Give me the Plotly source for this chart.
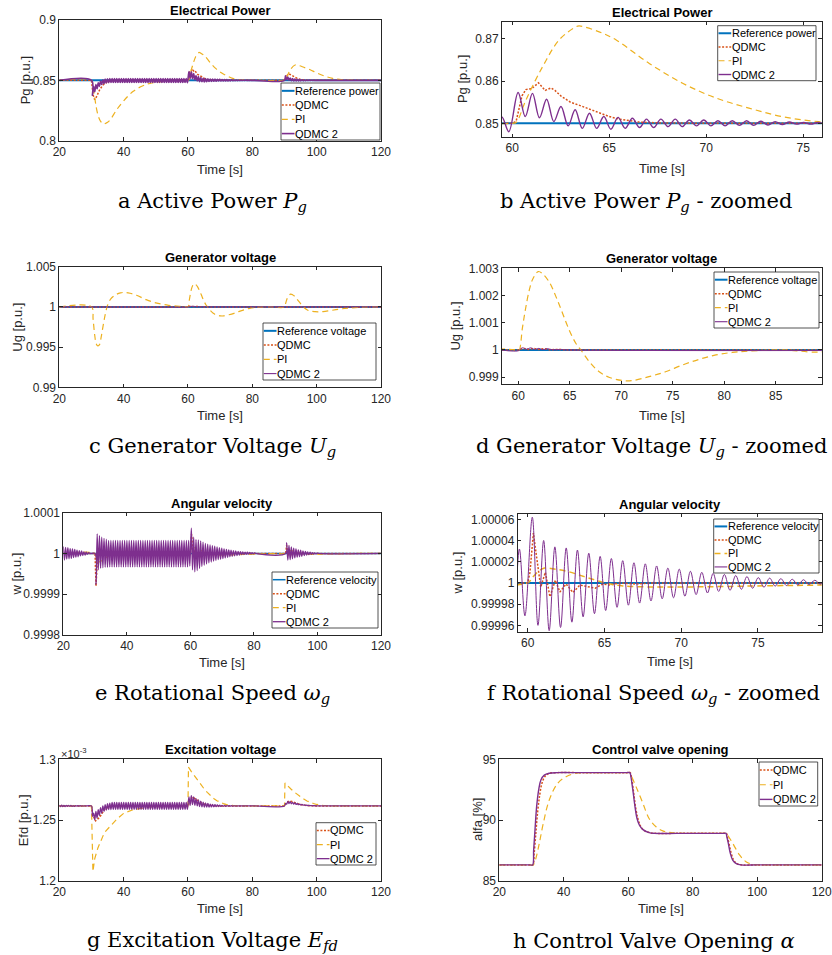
import plotly.graph_objects as go

FIG_W, FIG_H = 832, 955
SANS = "Liberation Sans, Arial, sans-serif"
SERIF = "DejaVu Serif, serif"

C_REF, C_QDMC, C_PI, C_Q2 = "#0072BD", "#D95319", "#EDB120", "#7E2F8E"
DOT, DASH = "2px,1.6px", "6px,4px"

# ---------------- time stamps of the QDMC 2 oscillation extremes [s] ----------------
T_OSC_A = [20.0, 20.36, 20.72, 21.08, 21.44, 21.8, 22.16, 22.52, 22.88, 23.24, 23.6, 23.96,
           24.32, 24.68, 25.04, 25.4, 25.76, 26.12, 26.48, 26.84, 27.2, 27.56, 27.92]
T_GAP_A = [28.5, 30.0]
T_PRE = [20.0, 30.0]
T_OSC_B = [30.3, 30.66, 31.02, 31.38, 31.74, 32.1, 32.46, 32.82, 33.18, 33.54,
           33.9, 34.26, 34.62, 34.98, 35.34, 35.7, 36.06, 36.42, 36.78, 37.14,
           37.5, 37.86, 38.22, 38.58, 38.94, 39.3, 39.66, 40.02, 40.38, 40.74,
           41.1, 41.46, 41.82, 42.18, 42.54, 42.9, 43.26, 43.62, 43.98, 44.34,
           44.7, 45.06, 45.42, 45.78, 46.14, 46.5, 46.86, 47.22, 47.58, 47.94,
           48.3, 48.66, 49.02, 49.38, 49.74, 50.1, 50.46, 50.82, 51.18, 51.54,
           51.9, 52.26, 52.62, 52.98, 53.34, 53.7, 54.06, 54.42, 54.78, 55.14,
           55.5, 55.86, 56.22, 56.58, 56.94, 57.3, 57.66, 58.02, 58.38, 58.74,
           59.1, 59.46, 59.82]
T_OSC_C = [60.3, 60.67, 61.04, 61.4, 61.77, 62.14, 62.51, 62.88, 63.24, 63.61,
           63.98, 64.35, 64.72, 65.08, 65.45, 65.82, 66.19, 66.56, 66.92, 67.29,
           67.66, 68.03, 68.4, 68.76, 69.13, 69.5, 69.87, 70.24, 70.6, 70.97,
           71.34, 71.71, 72.08, 72.44, 72.81, 73.18, 73.55, 73.92, 74.28, 74.65,
           75.02, 75.39, 75.76, 76.12, 76.49, 76.86, 77.23, 77.6, 77.96, 78.33,
           78.7, 79.07, 79.44, 79.8, 80.17]
T_GAP_C = [80.6, 90.0]
T_OSC_D = [90.3, 90.67, 91.04, 91.4, 91.77, 92.14, 92.51, 92.88, 93.24, 93.61,
           93.98, 94.35, 94.72, 95.08, 95.45, 95.82, 96.19, 96.56, 96.92, 97.29,
           97.66, 98.03, 98.4, 98.76, 99.13, 99.5, 99.87]
T_END = [100.3, 120.0]
ZERO2 = [0, 0]

# ---------------- Active power Pg [p.u.] ----------------
PG_REF_T = [20, 120]
PG_REF = [0.85, 0.85]
PG_QDMC_T = [20, 30.0, 30.5, 31.0, 31.5, 32.5, 33.5, 35.0, 37.0,
             60.0, 60.2, 60.5, 60.7, 61.0, 61.35, 61.7, 62.0, 62.2, 62.5,
             63.0, 63.5, 64.0, 64.5, 65.0, 65.5, 66.0, 66.5, 67.5, 70.0,
             90.0, 90.5, 91.3, 92.0, 93.0, 94.0, 95.0, 96.5, 120]
PG_QDMC = [0.85, 0.85, 0.838, 0.834, 0.836, 0.842, 0.846, 0.849, 0.85,
           0.85, 0.8505, 0.8565, 0.858, 0.8582, 0.8596, 0.8578, 0.8584, 0.8578, 0.8565,
           0.855, 0.8542, 0.8533, 0.8524, 0.8516, 0.851, 0.8506, 0.8503, 0.8501, 0.85,
           0.85, 0.853, 0.8555, 0.8545, 0.8528, 0.8515, 0.8507, 0.8501, 0.85]
PG_PI_T = [20, 30.0, 30.5, 31.0, 31.5, 32.0, 32.6, 33.2, 33.7, 34.3,
           35.0, 36.0, 37.8, 40.0, 43.0, 46.0, 48.2, 51.0, 53.4, 57.0,
           60.0, 60.2, 60.7, 61.56, 62.42, 63.28, 63.45, 64.48, 65.34, 67.06,
           68.78, 70.5, 72.2, 73.9, 75.8, 78.0, 81.0, 90.0, 90.3, 91.0,
           92.0, 93.3, 94.5, 96.0, 98.0, 100.0, 102.5, 105.0, 108.0, 112.0, 120]
PG_PI = [0.85, 0.85, 0.845, 0.836, 0.8275, 0.8215, 0.8172, 0.8148, 0.8138, 0.8142,
         0.8152, 0.818, 0.8255, 0.833, 0.841, 0.8455, 0.8475, 0.8488, 0.8494, 0.8498,
         0.85, 0.8502, 0.8555, 0.8634, 0.8698, 0.8729, 0.8731, 0.8717, 0.8698, 0.8642,
         0.8595, 0.856, 0.8536, 0.8516, 0.8504, 0.8501, 0.85, 0.85, 0.8505, 0.8545,
         0.8596, 0.8627, 0.8622, 0.8608, 0.8588, 0.8562, 0.8535, 0.8516, 0.8505, 0.8501, 0.85]
# QDMC 2 deviations from 0.85 in units of 1e-4 p.u., at the extremes above
PG_Q2_B = [-124, -50, -95, -35, -70, -20, -50, -5, -35, 5,
           -28, 10, -22, 13, -19,
           15, -17, 15, -17, 15, -17, 15, -17, 15, -17,
           15, -17, 15, -17, 15, -17, 15, -17, 15, -17,
           15, -17, 15, -17, 15, -17, 15, -17, 15, -17,
           15, -17, 15, -17, 15, -17, 15, -17, 15, -17,
           15, -17, 15, -17, 15, -17, 15, -17, 15, -17,
           15, -17, 15, -17, 15, -17, 15, -17, 15, -17,
           15, -17, 15, -17, 15, -17,
           15, -20]
PG_Q2_C = [73, 16, 71, 13, 57, 4, 40, -6, 32, -12,
           24, -12, 16, -14, 14, -12, 12, -10, 10, -10,
           10, -8, 10, -8, 8, -6, 8, -6, 6, -6,
           6, -5, 6, -5, 5, -4, 4, -3, 3, -2,
           2, -2, 2, -1.5, 1.5, -1, 1, -1, 1, -0.5,
           0.5, -0.5, 0.5, -0.3, 0]
PG_Q2_D = [38, 5, 28, 2, 20, -3, 15, -5, 10, -5, 8, -4, 6, -3, 4, -3, 3, -2, 2, -1,
           1.5, -1, 1, -0.5, 0.5, -0.5, 0]

# ---------------- Generator voltage Ug [p.u.] ----------------
UG_REF_T = [20, 120]
UG_REF = [1.0, 1.0]
UG_QDMC_T = [20, 30.0, 30.5, 31.5, 33.0, 60.0, 60.5, 61.0, 61.5, 62.0, 62.5, 63.0, 64.0, 65.0, 120]
UG_QDMC = [1.0, 1.0, 0.99992, 0.99995, 1.0, 1.0, 1.00006, 1.00002, 1.00006, 1.00002,
           1.00005, 1.00001, 1.00002, 1.0, 1.0]
UG_PI_T = [20, 30.0, 30.5, 31.0, 31.5, 32.0, 32.5, 33.0, 33.6, 34.3,
           35.0, 36.0, 37.5, 39.0, 40.5, 42.0, 44.0, 47.0, 50.0, 54.0, 58.0,
           60.0, 60.1, 60.4, 60.7, 61.07, 61.4, 61.94, 62.36, 63.0, 63.66,
           64.3, 64.95, 65.6, 66.08, 66.9, 67.86, 68.8, 70.1, 71.1, 72.7,
           74.3, 75.95, 77.6, 79.2, 80.8, 82.4, 85.7,
           90.0, 90.4, 91.0, 91.9, 92.5, 93.2, 94.0, 95.0, 96.0, 97.0,
           98.0, 99.5, 100.5, 102.0, 104.0, 106.0, 108.0, 111.0, 114.0, 118.0, 120]
UG_PI = [1.0, 1.0, 0.9985, 0.9965, 0.9954, 0.99515, 0.9953, 0.9962, 0.9976, 0.9991,
         1.0002, 1.001, 1.0015, 1.00175, 1.0018, 1.0017, 1.00145, 1.0009, 1.0005, 1.0002, 1.00005,
         1.0, 1.0, 1.0008, 1.0015, 1.0022, 1.0026, 1.00288, 1.0028, 1.0025, 1.00196,
         1.00135, 1.00073, 1.00024, 1.0, 0.99957, 0.9992, 0.999, 0.99888, 0.99888, 0.99902,
         0.9992, 0.99945, 0.99966, 0.99982, 0.99991, 0.99996, 1.0,
         1.0, 1.0005, 1.0012, 1.00158, 1.00152, 1.0013, 1.0009, 1.0004, 0.99995, 0.99965,
         0.99948, 0.9994, 0.99938, 0.99942, 0.99953, 0.99965, 0.99977, 0.99988, 0.99996, 1.0, 1.0]
UG_Q2_T = [20, 58.4, 59.0, 59.5, 60.0, 60.4, 60.8, 61.2, 61.6, 62.0, 62.4, 62.8, 63.3, 64.0, 65.0, 120]
UG_Q2 = [1.0, 1.0, 0.99997, 0.99996, 0.99997, 1.00008, 1.00003, 1.00008, 1.00002, 1.00006,
         1.00001, 1.00005, 1.00001, 1.00002, 1.0, 1.0]

# ---------------- Angular velocity w [p.u.], deviations from 1 in units of 1e-6 ----------------
W_REF_T = [20, 120]
W_REF = [1.0, 1.0]
W_QDMC_T = [20, 30.0, 30.3, 30.6, 30.9, 31.3, 31.7, 32.1, 32.5, 33.0,
            34.0, 35.0, 60.0, 60.15, 60.37, 60.6, 60.85, 61.15, 61.45, 61.8,
            62.1, 62.5, 62.95, 63.4, 63.8, 64.4, 64.9, 65.3, 66.0, 67.0,
            68.0, 90.0, 90.3, 90.7, 91.1, 91.5, 92.0, 93.0, 120]
W_QDMC = [0, 0, -80, -20, 15, -5, 12, -3, 8, 0,
          3, 0, 0, 10, 47, 20, -4, 10, -13, 2.5,
          -8.5, -1, -9, -2, -3, -5, -1, -2, 0, -1,
          0, 0, 20, -5, 8, -5, 3, 0, 0]
W_PI_T = [20, 30.0, 30.3, 30.7, 31.1, 31.8, 32.7, 33.6, 34.5, 35.2,
          36.2, 38.0, 40.0, 42.0, 44.5, 47.0, 50.0, 53.0, 60.0, 60.3,
          60.7, 61.1, 61.8, 62.7, 63.6, 64.45, 65.2, 66.2, 67.9, 70.1,
          72.3, 74.4, 76.6, 79.1, 82.0, 86.0, 90.0, 90.4, 91.1, 91.8, 92.7,
          93.6, 94.5, 95.2, 96.2, 98.0, 100.0, 102.0, 104.5, 107.0, 110.0,
          113.0, 120]
W_PI = [0, 0, -8, -17, -21, -19, -15, -9, -4, 1,
        4, 5.5, 5.5, 4.5, 3, 2, 1, 0, 0, 5,
        11, 14, 13, 10.5, 6.3, 2.5, -0.6, -2.8, -3.8, -3.8,
        -3.5, -3.0, -2.5, -2.0, -1.2, -0.4, 0, 4, 7, 7, 5.5,
        3.3, 1.3, -0.3, -1.5, -2, -2, -1.6, -1.1, -0.8, -0.3,
        0, 0]
W_Q2_A = [17, -16, 15, -14, 14, -13, 12, -12, 11, -10, 10, -9, 8, -8, 7, -6, 6, -5, 4, -4, 3, -2, 2]
W_Q2_B = [-76, 48, -40, 44, -36, 40, -35, 37, -34, 35, -34,
          32, -33, 32, -33, 32, -33, 32, -33, 32, -33,
          32, -33, 32, -33, 32, -33, 32, -33, 32, -33,
          32, -33, 32, -33, 32, -33, 32, -33, 32, -33,
          32, -33, 32, -33, 32, -33, 32, -33, 32, -33,
          32, -33, 32, -33, 32, -33, 32, -33, 32, -33,
          32, -33, 32, -33, 32, -33, 32, -33, 32, -33,
          32, -33, 32, -33, 32, -33, 32, -33, 32, -33,
          32, -31]
W_Q2_C = [62, -40, 40, -45, 34, -42, 33, -37, 31, -32,
          28, -29, 25, -26, 23, -23, 21, -21, 19, -19,
          18, -17, 16, -15, 14, -14, 13, -12.5, 11, -11,
          10, -9.5, 9, -8, 8, -7, 7, -6, 6, -5,
          5, -4, 4.5, -3, 4, -2.5, 3.5, -2, 3, -1.5,
          2.5, -1.2, 2, -1, 1.5]
W_Q2_D = [26, -16, 20, -15, 16, -13, 13, -11, 11, -9, 9, -8, 8, -7, 6, -5, 5, -4, 4, -3,
          3, -2, 2, -1.5, 1.5, -1, 1]

# ---------------- Excitation voltage Efd [x1e-3 p.u.] ----------------
EFD_QDMC_T = [20, 30.0, 30.3, 30.7, 31.3, 31.8, 32.5, 33.3, 34.2, 35.5,
              37.0, 60.0, 60.5, 61.0, 61.5, 62.2, 63.0, 64.0, 65.0, 66.0,
              67.5, 70.0, 90.0, 90.7, 91.5, 92.3, 93.5, 95.0, 97.0, 100.0, 120]
EFD_QDMC = [1.2616, 1.2616, 1.255, 1.252, 1.2493, 1.2505, 1.252, 1.2555, 1.259, 1.261,
            1.2616, 1.2616, 1.2655, 1.268, 1.2688, 1.2675, 1.266, 1.2645, 1.2632, 1.2625,
            1.2618, 1.2616, 1.2616, 1.2645, 1.2658, 1.2652, 1.264, 1.2627, 1.2619, 1.2616, 1.2616]
EFD_PI_T = [20, 30.0, 30.45, 31.0, 32.0, 33.0, 34.0, 35.7, 38.0, 40.0,
            43.0, 48.0, 55.0, 60.0, 60.15, 61.0, 62.0, 63.0, 64.0, 65.0,
            66.0, 67.0, 68.0, 69.0, 70.0, 71.0, 72.0, 74.0, 78.0, 90.0,
            90.15, 91.0, 92.0, 93.0, 94.0, 95.0, 96.0, 97.0, 98.0, 99.0,
            100.0, 102.0, 105.0, 120]
EFD_PI = [1.2616, 1.2616, 1.2075, 1.218, 1.227, 1.234, 1.2395, 1.2445, 1.251, 1.2555,
          1.2585, 1.2607, 1.2616, 1.2616, 1.2935, 1.29, 1.2862, 1.2825, 1.279, 1.2757,
          1.2727, 1.27, 1.2677, 1.2659, 1.2645, 1.2635, 1.2627, 1.262, 1.2616, 1.2616,
          1.2805, 1.278, 1.2755, 1.2731, 1.271, 1.269, 1.2672, 1.2657, 1.2645, 1.2636,
          1.2628, 1.262, 1.2616, 1.2616]
# QDMC 2 deviations from 1.2616 in units of 1e-4 (x1e-3 p.u.)
EFD_Q2_A = [7, -6, 6, -6, 5, -5, 5, -4, 4, -4, 4, -3, 3, -3, 3, -2, 2, -2, 2, -1, 1, -1, 1]
EFD_Q2_B = [-85, -60, -115, -45, -100, -30, -80, -15, -60, 0,
            -45, 10, -35, 18, -30, 22, -30,
            28, -29, 28, -29, 28, -29, 28, -29, 28, -29,
            28, -29, 28, -29, 28, -29, 28, -29, 28, -29,
            28, -29, 28, -29, 28, -29, 28, -29, 28, -29,
            28, -29, 28, -29, 28, -29, 28, -29, 28, -29,
            28, -29, 28, -29, 28, -29, 28, -29, 28, -29,
            28, -29, 28, -29, 28, -29, 28, -29, 28, -29,
            28, -29, 28, -29, 28, -29]
EFD_Q2_C = [75, 5, 85, 10, 75, 5, 60, 0, 50, -5,
            40, -8, 32, -10, 25, -10, 20, -10, 15, -8,
            12, -7, 10, -6, 8, -5, 6, -4, 5, -3,
            4, -3, 3, -2, 2, -2, 2, -1, 1, -1,
            1, -1, 1, -0.5, 0.5, -0.5, 0.5, -0.5, 0.5, 0,
            0, 0, 0, 0, 0]
EFD_Q2_D = [20, 15, 38, 20, 35, 18, 30, 15, 25, 12, 20, 10, 15, 8, 12, 6, 9, 4, 6, 3,
            4, 2, 3, 1, 2, 1, 0.5]

# ---------------- Control valve opening alfa [%] ----------------
ALFA_QDMC_T = [20, 25.0, 29.5, 30.4, 30.8, 31.3, 31.9, 32.5, 33.2, 34.2,
               35.5, 38.0, 45.0, 52.0, 59.5, 60.6, 61.0, 61.6, 62.3, 63.0,
               63.8, 64.8, 66.8, 68.5, 75.0, 82.0, 89.5, 90.4, 90.8, 91.3,
               91.9, 92.6, 93.6, 95.3, 100.0, 110.0, 120]
ALFA_QDMC = [86.3, 86.3, 86.3, 86.3, 87.2, 88.8, 90.7, 92.0, 93.0, 93.6,
             93.85, 93.9, 93.9, 93.9, 93.9, 93.9, 93.5, 92.4, 91.0, 90.1,
             89.5, 89.15, 88.95, 88.9, 88.9, 88.9, 88.9, 88.9, 88.55, 88.0,
             87.3, 86.75, 86.42, 86.3, 86.3, 86.3, 86.3]
ALFA_PI_T = [20, 25.0, 29.5, 30.5, 31.35, 32.4, 33.65, 35.5, 38.1, 40.7,
             43.8, 47.0, 53.0, 59.5, 60.5, 60.85, 62.4, 64.5, 66.5, 68.6,
             70.7, 73.8, 77.0, 83.0, 89.5, 90.4, 90.8, 92.4, 94.5, 96.5,
             98.6, 102.0, 110.0, 120]
ALFA_PI = [86.3, 86.3, 86.3, 86.3, 86.84, 88.08, 89.73, 91.65, 93.02, 93.57,
           93.85, 93.9, 93.9, 93.9, 93.9, 93.7, 92.75, 91.4, 90.1, 89.45,
           89.1, 88.95, 88.9, 88.9, 88.9, 88.9, 88.76, 88.08, 87.12, 86.57,
           86.35, 86.3, 86.3, 86.3]
ALFA_Q2_T = [20, 25.0, 29.5, 30.34, 30.65, 31.07, 31.58, 32.2, 32.9, 33.96,
             35.5, 38.0, 45.0, 52.0, 59.5, 60.5, 60.8, 61.36, 62.09, 62.7,
             63.43, 64.47, 66.5, 68.0, 75.0, 82.0, 89.5, 90.3, 90.6, 91.04,
             91.66, 92.39, 93.4, 95.0, 100.0, 110.0, 120]
ALFA_Q2 = [86.3, 86.3, 86.3, 86.3, 87.5, 89.18, 91.1, 92.47, 93.3, 93.7,
           93.85, 93.9, 93.9, 93.9, 93.9, 93.9, 93.6, 92.6, 91.1, 90.14,
           89.59, 89.23, 88.96, 88.9, 88.9, 88.9, 88.9, 88.9, 88.6, 88.08,
           87.25, 86.7, 86.43, 86.3, 86.3, 86.3, 86.3]


def build(base, scale, segments):
    t, v = [], []
    for ts, ds in segments:
        assert len(ts) == len(ds), (len(ts), len(ds))
        t += list(ts)
        v += [base + d * scale for d in ds]
    return t, v


PG_Q2_T, PG_Q2 = build(0.85, 1e-4, [(T_PRE, ZERO2), (T_OSC_B, PG_Q2_B), (T_OSC_C, PG_Q2_C),
                                    (T_GAP_C, ZERO2), (T_OSC_D, PG_Q2_D), (T_END, ZERO2)])
W_Q2_T, W_Q2 = build(1.0, 1e-6, [(T_OSC_A, W_Q2_A), (T_GAP_A, ZERO2), (T_OSC_B, W_Q2_B),
                                 (T_OSC_C, W_Q2_C), (T_GAP_C, ZERO2), (T_OSC_D, W_Q2_D),
                                 (T_END, ZERO2)])
EFD_Q2_T, EFD_Q2 = build(1.2616, 1e-4, [(T_OSC_A, EFD_Q2_A), (T_GAP_A, ZERO2), (T_OSC_B, EFD_Q2_B),
                                        (T_OSC_C, EFD_Q2_C), (T_GAP_C, ZERO2), (T_OSC_D, EFD_Q2_D),
                                        (T_END, ZERO2)])
W_QDMC_V = [1.0 + d * 1e-6 for d in W_QDMC]
W_PI_V = [1.0 + d * 1e-6 for d in W_PI]

X_FULL = [20, 40, 60, 80, 100, 120]


def S(t, v, name, color, width, dash="solid", shape="linear"):
    assert len(t) == len(v), (name, len(t), len(v))
    return dict(t=t, v=v, name=name, color=color, width=width, dash=dash, shape=shape)


PANELS = [
    dict(box=(59.3, 381, 20, 140.7), xr=[20, 120], yr=[0.8, 0.9], xt=X_FULL,
         yt=[0.8, 0.85, 0.9], ytt=["0.8", "0.85", "0.9"],
         title="Electrical Power", ylab="Pg [p.u.]", ylx=25, xly=170,
         cap="a Active Power <i>P</i><sub><i>g</i></sub>", capx=212.5, capy=202.5,
         leg=(281, 380, 83, 140),
         series=[S(PG_REF_T, PG_REF, "Reference power", C_REF, 2),
                 S(PG_QDMC_T, PG_QDMC, "QDMC", C_QDMC, 1.5, DOT),
                 S(PG_PI_T, PG_PI, "PI", C_PI, 1.2, DASH, "spline"),
                 S(PG_Q2_T, PG_Q2, "QDMC 2", C_Q2, 1.6, "solid", "spline")]),
    dict(box=(502, 821.7, 21.7, 137), xr=[59.47, 75.95], yr=[0.84675, 0.8741], xt=[60, 65, 70, 75],
         yt=[0.85, 0.86, 0.87], ytt=["0.85", "0.86", "0.87"],
         title="Electrical Power", ylab="Pg [p.u.]", ylx=462.7, xly=168,
         cap="b Active Power <i>P</i><sub><i>g</i></sub> - zoomed", capx=646, capy=202.5,
         leg=(717.7, 816, 25.7, 80.7),
         series=[S(PG_REF_T, PG_REF, "Reference power", C_REF, 2),
                 S(PG_QDMC_T, PG_QDMC, "QDMC", C_QDMC, 1.5, DOT),
                 S(PG_PI_T, PG_PI, "PI", C_PI, 1.2, DASH, "spline"),
                 S(PG_Q2_T, PG_Q2, "QDMC 2", C_Q2, 1.4, "solid", "spline")]),
    dict(box=(59.3, 381, 266.7, 387.3), xr=[20, 120], yr=[0.99, 1.005], xt=X_FULL,
         yt=[0.99, 0.995, 1.0, 1.005], ytt=["0.99", "0.995", "1", "1.005"],
         title="Generator voltage", ylab="Ug [p.u.]", ylx=16.7, xly=416,
         cap="c Generator Voltage <i>U</i><sub><i>g</i></sub>", capx=212, capy=447,
         leg=(263, 376, 323, 380),
         series=[S(UG_REF_T, UG_REF, "Reference voltage", C_REF, 2),
                 S(UG_QDMC_T, UG_QDMC, "QDMC", C_QDMC, 1.5, DOT),
                 S(UG_PI_T, UG_PI, "PI", C_PI, 1.2, DASH, "spline"),
                 S(UG_Q2_T, UG_Q2, "QDMC 2", C_Q2, 1.0)]),
    dict(box=(502, 821.7, 268.3, 384.3), xr=[58.42, 89.47], yr=[0.99874, 1.003],
         xt=[60, 65, 70, 75, 80, 85],
         yt=[0.999, 1.0, 1.001, 1.002, 1.003], ytt=["0.999", "1", "1.001", "1.002", "1.003"],
         title="Generator voltage", ylab="Ug [p.u.]", ylx=455.3, xly=415,
         cap="d Generator Voltage <i>U</i><sub><i>g</i></sub> - zoomed", capx=651, capy=447,
         leg=(714, 819, 272, 328),
         series=[S(UG_REF_T, UG_REF, "Reference voltage", C_REF, 2),
                 S(UG_QDMC_T, UG_QDMC, "QDMC", C_QDMC, 1.5, DOT),
                 S(UG_PI_T, UG_PI, "PI", C_PI, 1.2, DASH, "spline"),
                 S(UG_Q2_T, UG_Q2, "QDMC 2", C_Q2, 1.0, "solid", "spline")]),
    dict(box=(63.3, 381, 512.7, 635), xr=[20, 120], yr=[0.9998, 1.0001], xt=X_FULL,
         yt=[0.9998, 0.9999, 1.0, 1.0001], ytt=["0.9998", "0.9999", "1", "1.0001"],
         title="Angular velocity", ylab="w [p.u.]", ylx=16.7, xly=662.7,
         cap="e Rotational Speed <i>ω</i><sub><i>g</i></sub>", capx=213, capy=694,
         leg=(272, 378, 572, 628),
         series=[S(W_REF_T, W_REF, "Reference velocity", C_REF, 1.5),
                 S(W_QDMC_T, W_QDMC_V, "QDMC", C_QDMC, 1.5, DOT),
                 S(W_PI_T, W_PI_V, "PI", C_PI, 1.2, DASH, "spline"),
                 S(W_Q2_T, W_Q2, "QDMC 2", C_Q2, 1.3, "solid", "spline")]),
    dict(box=(517.7, 821.7, 514, 631.7), xr=[59.35, 79.15], yr=[0.999954, 1.000065],
         xt=[60, 65, 70, 75],
         yt=[0.99996, 0.99998, 1.0, 1.00002, 1.00004, 1.00006],
         ytt=["0.99996", "0.99998", "1", "1.00002", "1.00004", "1.00006"],
         title="Angular velocity", ylab="w [p.u.]", ylx=457.7, xly=661.7,
         cap="f Rotational Speed <i>ω</i><sub><i>g</i></sub> - zoomed", capx=653, capy=694,
         leg=(713.7, 819, 519, 573),
         series=[S(W_REF_T, W_REF, "Reference velocity", C_REF, 2),
                 S(W_QDMC_T, W_QDMC_V, "QDMC", C_QDMC, 1.5, DOT),
                 S(W_PI_T, W_PI_V, "PI", C_PI, 1.5, DASH, "spline"),
                 S(W_Q2_T, W_Q2, "QDMC 2", C_Q2, 1.0, "solid", "spline")]),
    dict(box=(59.3, 381, 759.3, 880.7), xr=[20, 120], yr=[1.2, 1.3], xt=X_FULL,
         yt=[1.2, 1.25, 1.3], ytt=["1.2", "1.25", "1.3"],
         title="Excitation voltage", ylab="Efd [p.u.]", ylx=23.3, xly=908,
         cap="g Excitation Voltage <i>E</i><sub><i>fd</i></sub>", capx=212.5, capy=941,
         leg=(316, 376, 822.7, 865),
         series=[S(EFD_QDMC_T, EFD_QDMC, "QDMC", C_QDMC, 1.5, DOT),
                 S(EFD_PI_T, EFD_PI, "PI", C_PI, 1.2, DASH),
                 S(EFD_Q2_T, EFD_Q2, "QDMC 2", C_Q2, 1.3, "solid", "spline")]),
    dict(box=(499.3, 821.7, 759.3, 880.7), xr=[20, 120], yr=[85, 95], xt=X_FULL,
         yt=[85, 90, 95], ytt=["85", "90", "95"],
         title="Control valve opening", ylab="alfa [%]", ylx=477, xly=908,
         cap="h Control Valve Opening <i>α</i>", capx=653.5, capy=941,
         leg=(759, 817.7, 762, 806),
         series=[S(ALFA_QDMC_T, ALFA_QDMC, "QDMC", C_QDMC, 1.5, DOT, "spline"),
                 S(ALFA_PI_T, ALFA_PI, "PI", C_PI, 1.2, DASH, "spline"),
                 S(ALFA_Q2_T, ALFA_Q2, "QDMC 2", C_Q2, 1.4, "solid", "spline")]),
]


def px(x):
    return x / FIG_W


def py(y):
    return 1 - y / FIG_H


fig = go.Figure()
layout = dict(width=FIG_W, height=FIG_H, margin=dict(l=0, r=0, t=0, b=0, pad=0),
              paper_bgcolor="white", plot_bgcolor="white", showlegend=False,
              hovermode=False)
annotations, shapes = [], []
AX_COLOR = "#262626"


def note(x, y, s, size, family=SANS, color=AX_COLOR, xanchor="center", angle=0, weight="normal"):
    annotations.append(dict(x=px(x), y=py(y), xref="paper", yref="paper", text=s,
                            showarrow=False, xanchor=xanchor, yanchor="middle",
                            borderpad=0, borderwidth=0, textangle=angle,
                            font=dict(size=size, family=family, color=color, weight=weight)))


for i, p in enumerate(PANELS, start=1):
    sfx = "" if i == 1 else str(i)
    x0, x1, y0, y1 = p["box"]
    for s in p["series"]:
        fig.add_trace(go.Scatter(x=s["t"], y=s["v"], mode="lines", name=s["name"],
                                 line=dict(color=s["color"], width=s["width"], dash=s["dash"],
                                           shape=s["shape"], smoothing=1.0),
                                 xaxis="x" + sfx, yaxis="y" + sfx, hoverinfo="skip"))
    common = dict(ticks="inside", ticklen=3.5, tickwidth=0.7, tickcolor=AX_COLOR,
                  showline=True, linecolor=AX_COLOR, linewidth=0.8, mirror="ticks",
                  showgrid=False, zeroline=False, automargin=False,
                  ticklabeloverflow="allow",
                  tickfont=dict(family=SANS, size=12, color=AX_COLOR))
    layout["xaxis" + sfx] = dict(domain=[px(x0), px(x1)], range=p["xr"], anchor="y" + sfx,
                                 tickvals=p["xt"], ticktext=[str(v) for v in p["xt"]], **common)
    layout["yaxis" + sfx] = dict(domain=[py(y1), py(y0)], range=p["yr"], anchor="x" + sfx,
                                 tickvals=p["yt"], ticktext=p["ytt"], **common)
    cx, cy = (x0 + x1) / 2, (y0 + y1) / 2
    note(cx, y0 - 9.5, p["title"], 13, color="#000000", weight="bold")
    note(cx, p["xly"], "Time [s]", 13)
    note(p["ylx"], cy, p["ylab"], 13, angle=-90)
    note(p["capx"], p["capy"], p["cap"], 21, family=SERIF, color="#000000")
    # legend box
    lx0, lx1, ly0, ly1 = p["leg"]
    shapes.append(dict(type="rect", xref="paper", yref="paper", x0=px(lx0), x1=px(lx1),
                       y0=py(ly1), y1=py(ly0), line=dict(color=AX_COLOR, width=0.8),
                       fillcolor="white", layer="above"))
    n = len(p["series"])
    rh = (ly1 - ly0) / n
    for k, s in enumerate(p["series"]):
        ry = ly0 + (k + 0.55) * rh
        shapes.append(dict(type="line", xref="paper", yref="paper", x0=px(lx0 + 0.8),
                           x1=px(lx0 + 13.5), y0=py(ry), y1=py(ry), layer="above",
                           line=dict(color=s["color"], width=s["width"] if s["width"] > 1.1 else 1.1,
                                     dash=s["dash"])))
        note(lx0 + 14.2, ry, s["name"], 11, color="#000000", xanchor="left")

# exponent label of the Efd axis
note(61, 753, "×10<sup>-3</sup>", 11, xanchor="left")

layout["annotations"] = annotations
layout["shapes"] = shapes
fig.update_layout(**layout)
fig.write_html("out.html", config={"displayModeBar": False},
               post_script="document.body.style.margin='0';document.body.style.overflow='hidden';")
